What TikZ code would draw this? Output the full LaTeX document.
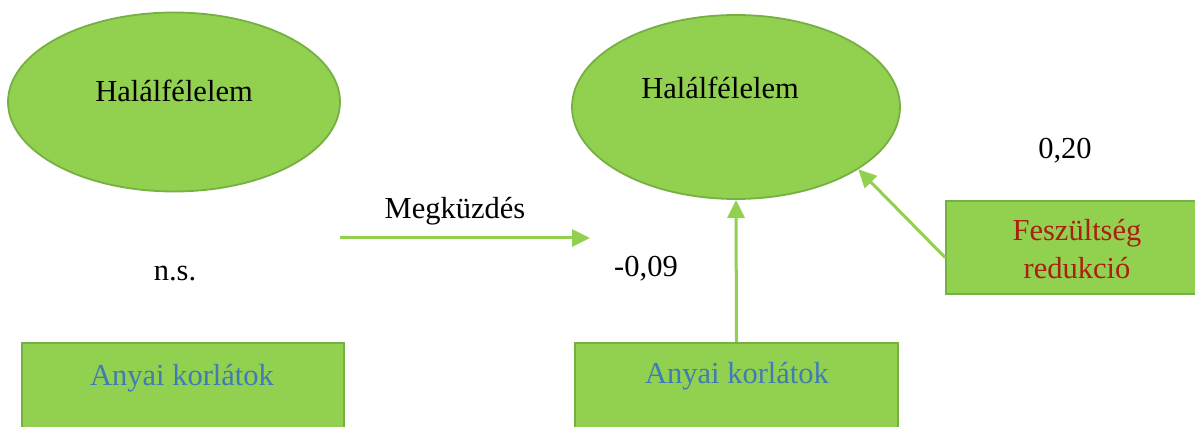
\documentclass[tikz,border=0pt]{standalone}
\usepackage{fontspec}
\setmainfont{Liberation Serif}
\usetikzlibrary{arrows.meta,shapes.geometric}
\definecolor{boxgreen}{HTML}{92D050}
\definecolor{edgegreen}{HTML}{76B043}
\definecolor{arrowgreen}{HTML}{92D050}
\definecolor{labelblue}{HTML}{3F7BB5}
\definecolor{labelred}{HTML}{A8200E}

\begin{document}
\begin{tikzpicture}[x=1pt,y=-1pt,
  construct/.style={ellipse, draw=edgegreen, fill=boxgreen, line width=1.8pt, inner sep=0pt},
  factorbox/.style={rectangle, draw=edgegreen, fill=boxgreen, line width=1.8pt, inner sep=0pt},
  effect/.style={draw=arrowgreen, line width=3pt, -{Triangle[length=18pt,width=17pt]}},
  txt/.style={font=\fontsize{30.5}{36}\selectfont, inner sep=0pt, anchor=base},
]
\clip (0,0) rectangle (1195,427);
\fill[white] (0,0) rectangle (1195,427);

% latent constructs
\node[construct, minimum width=332pt, minimum height=179pt] (lell) at (174,102) {};
\node[construct, minimum width=328pt, minimum height=184pt] (rell) at (736,107) {};
\node[txt] (ltitle) at (174,102) {Halálfélelem};
\node[txt] (rtitle) at (720,99) {Halálfélelem};

% predictor boxes
\node[factorbox, minimum width=322pt, minimum height=126pt] (lbox) at (183,406) {};
\node[factorbox, minimum width=323pt, minimum height=126pt] (rbox) at (736.5,406) {};
\node[factorbox, minimum width=256pt, minimum height=93pt] (fbox) at (1074,247.5) {};
\node[txt, text=labelblue] (ltext) at (182,386) {Anyai korlátok};
\node[txt, text=labelblue] (rtext) at (737,384) {Anyai korlátok};
\node[txt, text=labelred] (ftext1) at (1077,241) {Feszültség};
\node[txt, text=labelred] (ftext2) at (1077,279) {redukció};

% coefficients and labels
\node[txt] (ns) at (175,281) {n.s.};
\node[txt] (coefa) at (646,277) {-0,09};
\node[txt] (coefb) at (1065,159) {0,20};
\node[txt] (mlabel) at (455,219) {Megküzdés};

% paths
\coordinate (mfrom) at (340,238);
\coordinate (mto) at (590,238);
\draw[effect] (mfrom) -- (mto);
\draw[effect] (rbox.north) -- (rell.south);
\draw[effect] ([yshift=-10pt]fbox.west) -- (rell.-27);
\end{tikzpicture}
\end{document}
